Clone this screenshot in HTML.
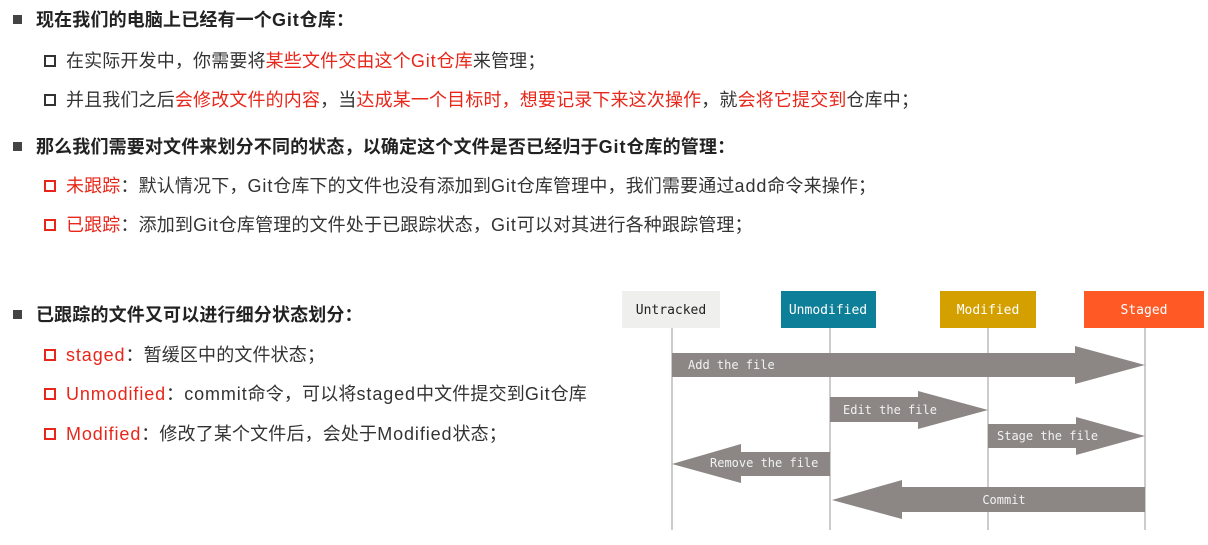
<!DOCTYPE html>
<html><head><meta charset="utf-8"><style>
body{margin:0;width:1208px;height:545px;background:#fff;position:relative;overflow:hidden;font-family:"Liberation Sans","Noto Sans CJK SC",sans-serif;}
.l{position:absolute;white-space:nowrap;font-size:18px;color:#333;line-height:24px;letter-spacing:0.15px;}
.h{font-weight:bold;color:#222;}
.r{color:#e8261a;}
.e{letter-spacing:0.9px;}
.b{position:absolute;width:9px;height:9px;background:#444;}
.s{position:absolute;width:8px;height:8px;border:2px solid #333;}
.sr{position:absolute;width:8px;height:8px;border:2px solid #e8261a;}
</style></head><body>
<div class="b" style="left:13px;top:15px"></div>
<div class="l h" style="left:36px;top:8px">现在我们的电脑上已经有一个<span class="e">Git</span>仓库：</div>
<div class="s" style="left:44px;top:55px"></div>
<div class="l" style="left:66px;top:49px">在实际开发中，你需要将<span class="r">某些文件交由这个<span class="e">Git</span>仓库</span>来管理；</div>
<div class="s" style="left:44px;top:94px"></div>
<div class="l" style="left:66px;top:88px">并且我们之后<span class="r">会修改文件的内容</span>，当<span class="r">达成某一个目标时，想要记录下来这次操作</span>，就<span class="r">会将它提交到</span>仓库中；</div>
<div class="b" style="left:13px;top:142px"></div>
<div class="l h" style="left:36px;top:135px">那么我们需要对文件来划分不同的状态，以确定这个文件是否已经归于<span class="e">Git</span>仓库的管理：</div>
<div class="sr" style="left:44px;top:180px"></div>
<div class="l" style="left:66px;top:174px"><span class="r">未跟踪</span>：默认情况下，<span class="e">Git</span>仓库下的文件也没有添加到<span class="e">Git</span>仓库管理中，我们需要通过<span class="e">add</span>命令来操作；</div>
<div class="sr" style="left:44px;top:219px"></div>
<div class="l" style="left:66px;top:213px"><span class="r">已跟踪</span>：添加到<span class="e">Git</span>仓库管理的文件处于已跟踪状态，<span class="e">Git</span>可以对其进行各种跟踪管理；</div>
<div class="b" style="left:13px;top:310px"></div>
<div class="l h" style="left:36px;top:303px">已跟踪的文件又可以进行细分状态划分：</div>
<div class="sr" style="left:44px;top:349px"></div>
<div class="l" style="left:66px;top:343px"><span class="r e">staged</span>：暂缓区中的文件状态；</div>
<div class="sr" style="left:44px;top:388px"></div>
<div class="l" style="left:66px;top:382px"><span class="r e">Unmodified</span>：<span class="e">commit</span>命令，可以将<span class="e">staged</span>中文件提交到<span class="e">Git</span>仓库</div>
<div class="sr" style="left:44px;top:428px"></div>
<div class="l" style="left:66px;top:422px"><span class="r e">Modified</span>：修改了某个文件后，会处于<span class="e">Modified</span>状态；</div>

<svg width="1208" height="545" style="position:absolute;left:0;top:0" font-family="'DejaVu Sans Mono','Liberation Mono',monospace">
<g stroke="#aaa" stroke-width="1.2">
<line x1="672" y1="327" x2="672" y2="530"/><line x1="830" y1="327" x2="830" y2="530"/>
<line x1="988" y1="327" x2="988" y2="530"/><line x1="1145" y1="327" x2="1145" y2="530"/>
</g>
<rect x="622" y="291" width="98" height="37" fill="#efefed"/>
<rect x="781" y="291" width="95" height="37" fill="#0e7f98"/>
<rect x="940" y="291" width="96" height="37" fill="#d4a000"/>
<rect x="1084" y="291" width="120" height="37" fill="#ff5a26"/>
<g font-size="13" text-anchor="middle">
<text x="671" y="314" fill="#222">Untracked</text>
<text x="828" y="314" fill="#fff">Unmodified</text>
<text x="988" y="314" fill="#fff">Modified</text>
<text x="1144" y="314" fill="#fff">Staged</text>
</g>
<g fill="#8c8785">
<polygon points="672,353 1075,353 1075,346 1145,365 1075,384 1075,377 672,377"/>
<polygon points="830,397 918,397 918,391 988,410 918,429 918,422 830,422"/>
<polygon points="988,424 1076,424 1076,417 1145,436 1076,455 1076,448 988,448"/>
<polygon points="830,452 741,452 741,444 672,464 741,483 741,476 830,476"/>
<polygon points="1145,487 902,487 902,480 832,500 902,519 902,512 1145,512"/>
</g>
<g font-size="12" fill="#f2f2f2">
<text x="688" y="369">Add the file</text>
<text x="843" y="414">Edit the file</text>
<text x="997" y="440">Stage the file</text>
<text x="710" y="467">Remove the file</text>
<text x="1004" y="504" text-anchor="middle">Commit</text>
</g>
</svg>
</body></html>
